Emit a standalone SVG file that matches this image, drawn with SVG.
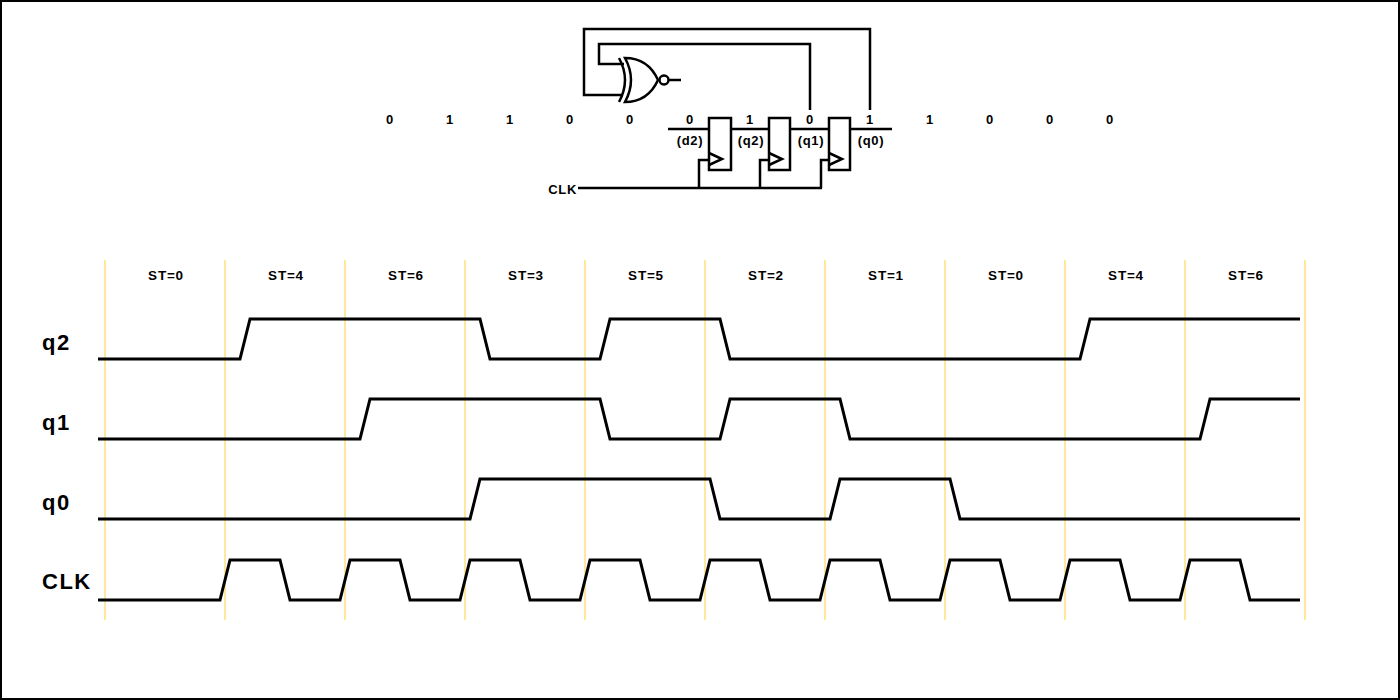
<svg xmlns="http://www.w3.org/2000/svg" width="1400" height="700" viewBox="0 0 1400 700">
<style>
.w{fill:none;stroke:#000;stroke-width:2.5;stroke-linejoin:miter}
.wave{fill:none;stroke:#000;stroke-width:3;stroke-linejoin:miter}
.grid{stroke:#FFDF7A;stroke-width:1.5}
.bit{font-family:"Liberation Sans",Arial,sans-serif;font-weight:bold;font-size:13px;letter-spacing:0.7px;text-anchor:middle;fill:#000}
.st{font-family:"Liberation Sans",Arial,sans-serif;font-weight:bold;font-size:13.5px;letter-spacing:0.8px;text-anchor:middle;fill:#000}
.sig{font-family:"Liberation Sans",Arial,sans-serif;font-weight:bold;font-size:22px;letter-spacing:1.5px;fill:#000}
</style>
<rect x="1" y="1" width="1398" height="698" fill="#fff" stroke="#000" stroke-width="2"/>

<g id="connectors">
  <path class="w" d="M870 110 V29 H584 V95 H622"/>
  <path class="w" d="M810 110 V44 H599 V64 H624"/>
  <path class="w" d="M669 80 H681"/>
  <path class="w" d="M668 129 H709 M731 129 H769 M790 129 H829 M850 129 H892"/>
  <path class="w" d="M578 188 H822 M699 188 V160 H709 M760 188 V160 H769 M821 188 V160 H829"/>
</g>

<g id="xnor">
  <path class="w" d="M619 58 Q631 80 619 102"/>
  <path class="w" d="M625 58 Q637 80 625 102 Q648 102 658 80 Q648 58 625 58 Z"/>
  <circle cx="664" cy="80" r="4.5" fill="#fff" stroke="#000" stroke-width="2.5"/>
</g>

<g id="ff2">
  <rect class="w" x="709" y="118" width="22" height="52"/>
  <path class="w" d="M709 153 L722 159 L709 165"/>
</g>
<g id="ff1">
  <rect class="w" x="769" y="118" width="21" height="52"/>
  <path class="w" d="M769 153 L782 159 L769 165"/>
</g>
<g id="ff0">
  <rect class="w" x="829" y="118" width="21" height="52"/>
  <path class="w" d="M829 153 L842 159 L829 165"/>
</g>

<g id="bits">
  <text class="bit" x="390" y="124">0</text>
  <text class="bit" x="450" y="124">1</text>
  <text class="bit" x="510" y="124">1</text>
  <text class="bit" x="570" y="124">0</text>
  <text class="bit" x="630" y="124">0</text>
  <text class="bit" x="690" y="124">0</text>
  <text class="bit" x="750" y="124">1</text>
  <text class="bit" x="810" y="124">0</text>
  <text class="bit" x="870" y="124">1</text>
  <text class="bit" x="930" y="124">1</text>
  <text class="bit" x="990" y="124">0</text>
  <text class="bit" x="1050" y="124">0</text>
  <text class="bit" x="1110" y="124">0</text>
  <text class="bit" x="690" y="145">(d2)</text>
  <text class="bit" x="751" y="145">(q2)</text>
  <text class="bit" x="811" y="145">(q1)</text>
  <text class="bit" x="871" y="145">(q0)</text>
  <text class="bit" x="577" y="194" style="text-anchor:end">CLK</text>
</g>

<g id="grid">
  <line class="grid" x1="105" y1="260" x2="105" y2="620"/>
  <line class="grid" x1="225" y1="260" x2="225" y2="620"/>
  <line class="grid" x1="345" y1="260" x2="345" y2="620"/>
  <line class="grid" x1="465" y1="260" x2="465" y2="620"/>
  <line class="grid" x1="585" y1="260" x2="585" y2="620"/>
  <line class="grid" x1="705" y1="260" x2="705" y2="620"/>
  <line class="grid" x1="825" y1="260" x2="825" y2="620"/>
  <line class="grid" x1="945" y1="260" x2="945" y2="620"/>
  <line class="grid" x1="1065" y1="260" x2="1065" y2="620"/>
  <line class="grid" x1="1185" y1="260" x2="1185" y2="620"/>
  <line class="grid" x1="1305" y1="260" x2="1305" y2="620"/>
</g>

<g id="states">
  <text class="st" x="166" y="280">ST=0</text>
  <text class="st" x="286" y="280">ST=4</text>
  <text class="st" x="406" y="280">ST=6</text>
  <text class="st" x="526" y="280">ST=3</text>
  <text class="st" x="646" y="280">ST=5</text>
  <text class="st" x="766" y="280">ST=2</text>
  <text class="st" x="886" y="280">ST=1</text>
  <text class="st" x="1006" y="280">ST=0</text>
  <text class="st" x="1126" y="280">ST=4</text>
  <text class="st" x="1246" y="280">ST=6</text>
</g>

<g id="signal-labels">
  <text class="sig" x="42" y="350">q2</text>
  <text class="sig" x="42" y="430">q1</text>
  <text class="sig" x="42" y="510">q0</text>
  <text class="sig" x="42" y="589">CLK</text>
</g>

<g id="waves">
  <path id="wave-q2" class="wave" d="M98 359 H240 L250 319 H480 L490 359 H600 L610 319 H720 L730 359 H1080 L1090 319 H1300"/>
  <path id="wave-q1" class="wave" d="M98 439 H360 L370 399 H600 L610 439 H720 L730 399 H840 L850 439 H1200 L1210 399 H1300"/>
  <path id="wave-q0" class="wave" d="M98 519 H470 L480 479 H710 L720 519 H830 L840 479 H950 L960 519 H1300"/>
  <path id="wave-clk" class="wave" d="M98 600 H220 L230 560 H280 L290 600 H340 L350 560 H400 L410 600 H460 L470 560 H520 L530 600 H580 L590 560 H640 L650 600 H700 L710 560 H760 L770 600 H820 L830 560 H880 L890 600 H940 L950 560 H1000 L1010 600 H1060 L1070 560 H1120 L1130 600 H1180 L1190 560 H1240 L1250 600 H1300"/>
</g>
</svg>
